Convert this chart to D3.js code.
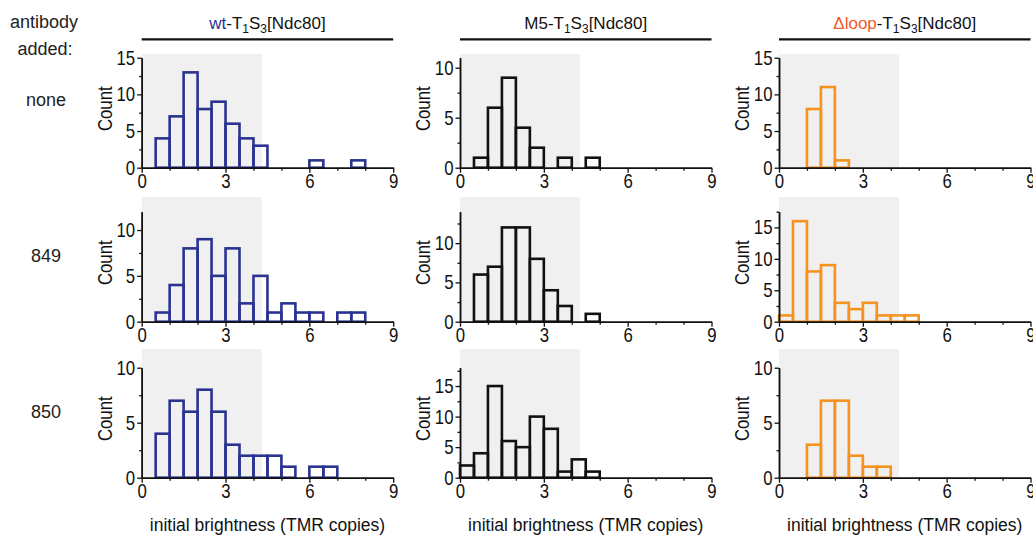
<!DOCTYPE html>
<html>
<head>
<meta charset="utf-8">
<script src="https://cdn.jsdelivr.net/npm/d3@7"></script>
<style>
  body { margin: 0; background: #fff; }
  svg { display: block; }
</style>
</head>
<body>
<svg id="chart" width="1033" height="541"></svg>
<script>
// Histograms of initial spot brightness, bin width 0.5 TMR copies.
// Each count array starts at the 0–0.5 bin.
const binWidth = 0.5;
const constructs = ["wt", "M5", "Δloop"];
const antibodies = ["none", "849", "850"];
const xTicks = [0, 3, 6, 9];
const xMinorTicks = [1, 2, 4, 5, 7, 8];
const brightCutoff = 4.3;

const wtNone    = [0, 4, 7, 13, 8, 9, 6, 4, 3, 0, 0, 0, 1, 0, 0, 1];
const wt849     = [0, 1, 4, 8, 9, 5, 8, 2, 5, 1, 2, 1, 1, 0, 1, 1];
const wt850     = [0, 4, 7, 6, 8, 6, 3, 2, 2, 2, 1, 0, 1, 1];
const m5None    = [0, 1, 6, 9, 4, 2, 0, 1, 0, 1];
const m5849     = [0, 6, 7, 12, 12, 8, 4, 2, 0, 1];
const m5850     = [2, 4, 15, 6, 5, 10, 8, 1, 3, 1];
const loopNone  = [0, 0, 8, 11, 1];
const loop849   = [1, 16, 8, 9, 3, 2, 3, 1, 1, 1];
const loop850   = [0, 0, 3, 7, 7, 2, 1, 1];

// y-axis upper limits, rows = antibody, columns = construct
const yMaxNone = [15, 11, 15];
const yMax849  = [12, 14, 17.5];
const yMax850  = [10, 18, 10];

const counts = [
  [wtNone, m5None, loopNone],
  [wt849, m5849, loop849],
  [wt850, m5850, loop850]
];
const yMax = [yMaxNone, yMax849, yMax850];

// layout
const colX0 = [141.7, 460, 779];
const plotW = 251.5;
const rowBottom = [167.7, 321.7, 477.7];
const plotH = 110;
const shadeTop = [54, 197, 349];

const barColor = ["#2b3391", "#111111", "#f7921e"];
const titleColor = ["#2e3192", "#111111", "#f15a29"];

const font = "'Liberation Sans', Arial, sans-serif";
const narrowScale = 0.84;   // condensed look for axis numbers and axis titles

const svg = d3.select("#chart");

// row labels
const left = svg.append("g").attr("font-family", font).attr("font-size", 18)
  .attr("fill", "#222").attr("text-anchor", "middle");
left.append("text").attr("x", 44).attr("y", 28).text("antibody");
left.append("text").attr("x", 45).attr("y", 55).text("added:");
const rowLabelY = [106, 262, 418];
antibodies.forEach((a, r) => {
  left.append("text").attr("x", 46).attr("y", rowLabelY[r]).text(a);
});

// column titles with underline
constructs.forEach((name, c) => {
  const x = d3.scaleLinear().domain([0, 9]).range([colX0[c], colX0[c] + plotW]);
  const t = svg.append("text")
    .attr("x", (x(0) + x(9)) / 2).attr("y", 29)
    .attr("text-anchor", "middle")
    .attr("font-family", font).attr("font-size", 17).attr("fill", "#111");
  t.append("tspan").attr("fill", titleColor[c]).text(name);
  t.append("tspan").text("-T");
  t.append("tspan").attr("dy", 4).attr("font-size", 12).text("1");
  t.append("tspan").attr("dy", -4).text("S");
  t.append("tspan").attr("dy", 4).attr("font-size", 12).text("3");
  t.append("tspan").attr("dy", -4).text("[Ndc80]");
  svg.append("line")
    .attr("x1", x(0)).attr("x2", x(9))
    .attr("y1", 39.3).attr("y2", 39.3)
    .attr("stroke", "#111").attr("stroke-width", 2.2);
});

function styleAxis(g, isLeft) {
  g.select(".domain").attr("stroke", "#111").attr("stroke-width", 1.5);
  g.selectAll(".tick line").attr("stroke", "#111").attr("stroke-width", 1.3);
  const txt = g.selectAll(".tick text")
    .attr("font-family", font).attr("font-size", 20).attr("fill", "#111")
    .attr("transform", `scale(${narrowScale},1)`);
  if (isLeft) txt.attr("x", -6.5 / narrowScale);
}

counts.forEach((rowData, r) => {
  rowData.forEach((data, c) => {
    const x = d3.scaleLinear().domain([0, 9]).range([colX0[c], colX0[c] + plotW]);
    const y = d3.scaleLinear().domain([0, yMax[r][c]]).range([rowBottom[r], rowBottom[r] - plotH]);
    const g = svg.append("g");

    // shaded brightness range
    g.append("rect")
      .attr("x", x(0)).attr("y", shadeTop[r])
      .attr("width", x(brightCutoff) - x(0))
      .attr("height", y(0) - shadeTop[r])
      .attr("fill", "#f0f0f0");

    const bins = data
      .map((n, i) => ({ x0: i * binWidth, x1: (i + 1) * binWidth, n }))
      .filter(d => d.n > 0);

    g.selectAll("rect.bar").data(bins).join("rect")
      .attr("class", "bar")
      .attr("x", d => x(d.x0))
      .attr("y", d => y(d.n))
      .attr("width", d => x(d.x1) - x(d.x0))
      .attr("height", d => y(0) - y(d.n))
      .attr("fill", "none")
      .attr("stroke", barColor[c])
      .attr("stroke-width", 2.6);

    // x axis
    const gxMinor = g.append("g").attr("transform", `translate(0,${y(0)})`)
      .call(d3.axisBottom(x).tickValues(xMinorTicks).tickSize(3).tickSizeOuter(0).tickFormat(""));
    styleAxis(gxMinor, false);
    const gx = g.append("g").attr("transform", `translate(0,${y(0)})`)
      .call(d3.axisBottom(x).tickValues(xTicks).tickSize(5).tickSizeOuter(0).tickPadding(1));
    styleAxis(gx, false);

    // y axis
    const ym = yMax[r][c];
    const gyMinor = g.append("g").attr("transform", `translate(${x(0)},0)`)
      .call(d3.axisLeft(y).tickValues(d3.range(2.5, ym + 0.01, 5)).tickSize(2.5).tickSizeOuter(0).tickFormat(""));
    styleAxis(gyMinor, true);
    const gy = g.append("g").attr("transform", `translate(${x(0)},0)`)
      .call(d3.axisLeft(y).tickValues(d3.range(0, ym + 0.01, 5)).tickSize(4.5).tickSizeOuter(0).tickPadding(2));
    styleAxis(gy, true);

    g.append("text")
      .attr("transform", `translate(${x(0) - 37},${y(0) - plotH / 2 - 4}) rotate(-90) scale(${narrowScale},1)`)
      .attr("text-anchor", "middle").attr("dy", "0.35em")
      .attr("font-family", font).attr("font-size", 20).attr("fill", "#111")
      .text("Count");

    if (r === 2) {
      g.append("text")
        .attr("x", (x(0) + x(9)) / 2).attr("y", y(0) + 53)
        .attr("text-anchor", "middle")
        .attr("font-family", font).attr("font-size", 17.5).attr("fill", "#111")
        .text("initial brightness (TMR copies)");
    }
  });
});
</script>
</body>
</html>
